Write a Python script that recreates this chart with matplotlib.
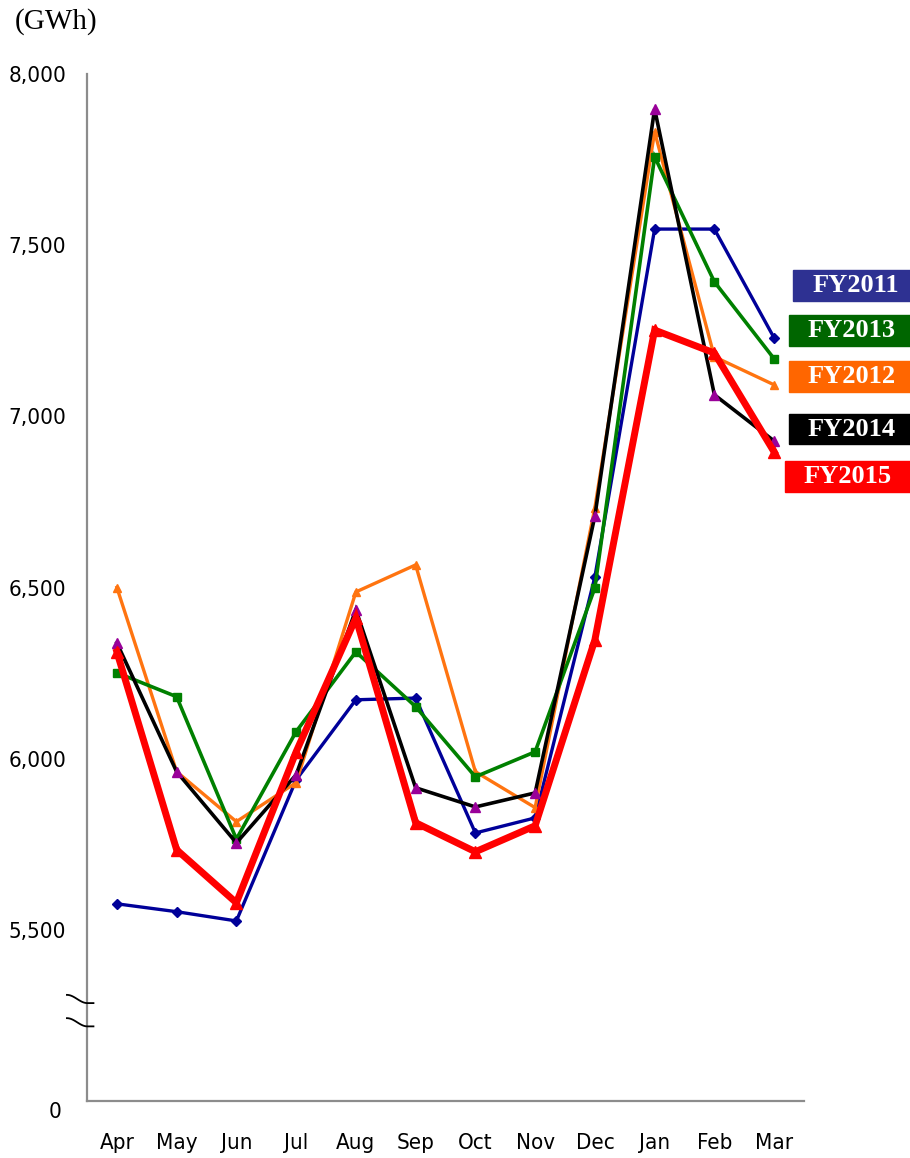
import numpy as np
import matplotlib
matplotlib.use("Agg")
import matplotlib.pyplot as plt
from matplotlib import font_manager
from matplotlib.patches import Rectangle
from matplotlib.transforms import blended_transform_factory

MONTHS = ["Apr", "May", "Jun", "Jul", "Aug", "Sep", "Oct", "Nov", "Dec", "Jan", "Feb", "Mar"]
SERIES = ["FY2011", "FY2012", "FY2013", "FY2014", "FY2015"]

fy2011 = [5576, 5553, 5526, 5938, 6172, 6177, 5783, 5827, 6531, 7547, 7547, 7229]
fy2012 = [6500, 5962, 5816, 5930, 6487, 6566, 5962, 5857, 6733, 7831, 7174, 7092]
fy2013 = [6251, 6181, 5765, 6079, 6312, 6152, 5947, 6020, 6499, 7758, 7393, 7168]
fy2014 = [6338, 5962, 5754, 5953, 6435, 5915, 5859, 5900, 6709, 7898, 7063, 6928]
fy2015 = [6312, 5734, 5579, 6020, 6411, 5813, 5728, 5804, 6347, 7252, 7185, 6896]

YTICKS = [5500, 6000, 6500, 7000, 7500, 8000]
YTICK_LABELS = ["5,500", "6,000", "6,500", "7,000", "7,500", "8,000"]
Y_MIN, Y_MAX = 5000, 8000
BREAK_LEVELS = [5298, 5230]

# legend order as it appears on the right
LEGEND_ORDER = ["FY2011", "FY2013", "FY2012", "FY2014", "FY2015"]

styles = {
    "FY2011": dict(color="#000099", lw=2.4, marker="D", ms=5, mfc="#000099", mec="#000099"),
    "FY2012": dict(color="#FF7410", lw=2.4, marker="^", ms=6, mfc="#FF7410", mec="#FF7410"),
    "FY2013": dict(color="#008000", lw=2.6, marker="s", ms=6, mfc="#008000", mec="#008000"),
    "FY2014": dict(color="#000000", lw=2.6, marker="^", ms=7, mfc="#990099", mec="#990099"),
    "FY2015": dict(color="#FF0000", lw=5.0, marker="^", ms=9, mfc="#FF0000", mec="#FF0000"),
}
box_colors = {"FY2011": "#2E3192", "FY2013": "#006600", "FY2012": "#FF6600",
              "FY2014": "#000000", "FY2015": "#FF0000"}

values = dict(zip(SERIES, [fy2011, fy2012, fy2013, fy2014, fy2015]))


def narrow_font(size):
    # look for a narrow sans face, the original uses a condensed one
    for f in font_manager.fontManager.ttflist:
        if f.name == "Liberation Sans Narrow" and f.weight in (400, "normal") and f.style == "normal":
            return font_manager.FontProperties(fname=f.fname, size=size)
    for f in font_manager.fontManager.ttflist:
        if f.name == "DejaVu Sans" and f.stretch == "condensed" and f.style == "normal" \
                and f.weight in (400, "normal"):
            return font_manager.FontProperties(fname=f.fname, size=size)
    return font_manager.FontProperties(family="DejaVu Sans", size=size - 2)


W, H = 910, 1158
fig = plt.figure(figsize=(W / 100, H / 100), dpi=100)
ax = fig.add_axes([87 / W, 1 - 1101 / H, (804 - 87) / W, (1101 - 74) / H])

x = np.arange(len(MONTHS))
for i, name in enumerate(SERIES):
    ax.plot(x, values[name], zorder=3 + i, solid_joinstyle="miter", **styles[name])

ax.set_xlim(-0.5, len(MONTHS) - 0.5)
ax.set_ylim(Y_MIN, Y_MAX)

fp = narrow_font(16)
ax.set_yticks(YTICKS)
ax.set_yticklabels(YTICK_LABELS, fontproperties=fp)
ax.set_xticks(x)
ax.set_xticklabels(MONTHS, fontproperties=fp)
ax.tick_params(axis="y", length=0, pad=15)
ax.tick_params(axis="x", length=0, pad=23)

for s in ["top", "right"]:
    ax.spines[s].set_visible(False)
for s in ["left", "bottom"]:
    ax.spines[s].set_color("#8c8c8c")
    ax.spines[s].set_linewidth(1.6)

# "0" label for the broken axis bottom
ax.annotate("0", xy=(0, Y_MIN), xycoords=("axes fraction", "data"),
            xytext=(-18, -8), textcoords="offset points",
            ha="right", va="center", fontproperties=fp)

# axis break marks
trans = blended_transform_factory(ax.transAxes, ax.transData)
t = np.linspace(0, 1, 40)
bx = -0.028 + 0.037 * t
for lvl in BREAK_LEVELS:
    by = lvl + 12 * np.cos(np.pi * np.clip(t * 1.3, 0, 1))
    ax.plot(bx, by, color="black", lw=1.3, transform=trans, clip_on=False, zorder=10)

fig.text(15 / W, 1 - 22 / H, "(GWh)", family="Liberation Serif", fontsize=21,
         ha="left", va="center")

# coloured legend boxes on the right
box_rows = {"FY2011": (793, 270, 301), "FY2013": (789, 315, 346), "FY2012": (789, 361, 392),
            "FY2014": (789, 414, 444), "FY2015": (785, 461, 492)}
for name in LEGEND_ORDER:
    x0, y0, y1 = box_rows[name]
    fig.patches.append(Rectangle((x0 / W, 1 - y1 / H), (W - x0) / W, (y1 - y0) / H,
                                 transform=fig.transFigure, color=box_colors[name], zorder=5))
    fig.text((x0 + 63) / W, 1 - (y0 + y1) / 2 / H, name, color="white",
             family="Liberation Serif", fontweight="bold", fontsize=19,
             ha="center", va="center", zorder=6)

fig.savefig("out.png", dpi=100)
